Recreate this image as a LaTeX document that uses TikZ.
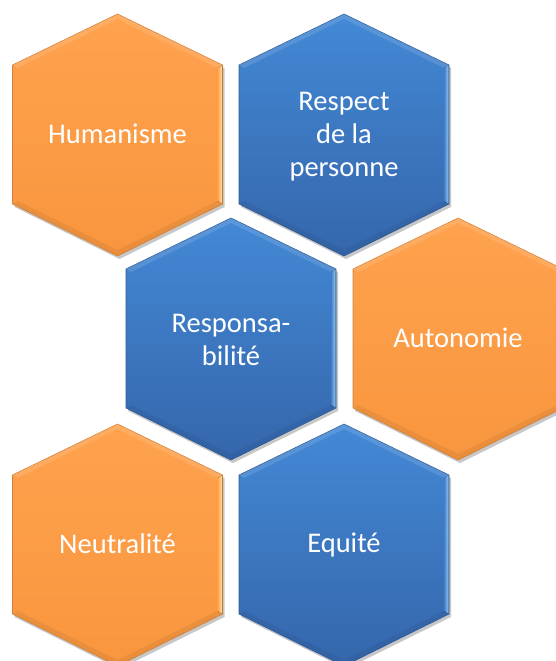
\documentclass[tikz,border=0pt]{standalone}
\usepackage{fontspec}
\setmainfont{Carlito}
\definecolor{orA}{HTML}{FFA24E}
\definecolor{orB}{HTML}{F8963E}
\definecolor{orEdge}{HTML}{D08038}
\definecolor{orLight}{HTML}{FFE39A}
\definecolor{blA}{HTML}{4389D6}
\definecolor{blB}{HTML}{3566AB}
\definecolor{blEdge}{HTML}{2D5A96}
\definecolor{blLight}{HTML}{9CCCF8}
\tikzset{
  hexlabel/.style={text=white, font=\fontsize{28.5}{33}\selectfont, align=center, inner sep=0pt},
  orangehex/.style={top color=orA, bottom color=orB},
  bluehex/.style={top color=blA, bottom color=blB},
}
% #1 centre, #2 fill style, #3 edge colour, #4 light colour, #5 base colour
\newcommand\hexdraw[5]{%
  \begin{scope}[shift={(#1)}]
    \fill[black, opacity=.22, xshift=2pt, yshift=-3pt]
      (0,-121) -- (105,-70) -- (105,69) -- (0,121) -- (-105,69) -- (-105,-70) -- cycle;
    \path[#2, draw=#3, line width=.6pt]
      (0,-121) -- (105,-70) -- (105,69) -- (0,121) -- (-105,69) -- (-105,-70) -- cycle;
    \fill[left color=#5, right color=#4]
      (100,-67) -- (104.7,-69.7) -- (104.7,68.7) -- (100,66) -- cycle;
    \fill[#3, opacity=.35]
      (-105,69) -- (-100,66) -- (0,115) -- (100,66) -- (105,69) -- (0,121) -- cycle;
    \fill[white, opacity=.12]
      (-105,-70) -- (0,-121) -- (105,-70) -- (100,-67) -- (0,-116) -- (-100,-67) -- cycle;
  \end{scope}%
}
\begin{document}
\begin{tikzpicture}[x=1pt, y=-1pt]
  \useasboundingbox (0,0) rectangle (556,661);
  \clip (0,0) rectangle (556,661);
  \hexdraw{117.5,135}{orangehex}{orEdge}{orLight}{orA}
  \hexdraw{344,135}{bluehex}{blEdge}{blLight}{blA!70!blB}
  \hexdraw{231,339}{bluehex}{blEdge}{blLight}{blA!70!blB}
  \hexdraw{458,339}{orangehex}{orEdge}{orLight}{orA}
  \hexdraw{117.5,545}{orangehex}{orEdge}{orLight}{orA}
  \hexdraw{344,545}{bluehex}{blEdge}{blLight}{blA!70!blB}
  \node[hexlabel] (hum) at (117.5,134) {Humanisme};
  \node[hexlabel] (res) at (344,137) {Respect\\de la\\personne};
  \node[hexlabel] (resp) at (231,340) {Responsa-\\bilité};
  \node[hexlabel] (aut) at (458,338) {Autonomie};
  \node[hexlabel] (neu) at (117.5,544) {Neutralité};
  \node[hexlabel] (equ) at (344,545) {Equité};
\end{tikzpicture}
\end{document}
